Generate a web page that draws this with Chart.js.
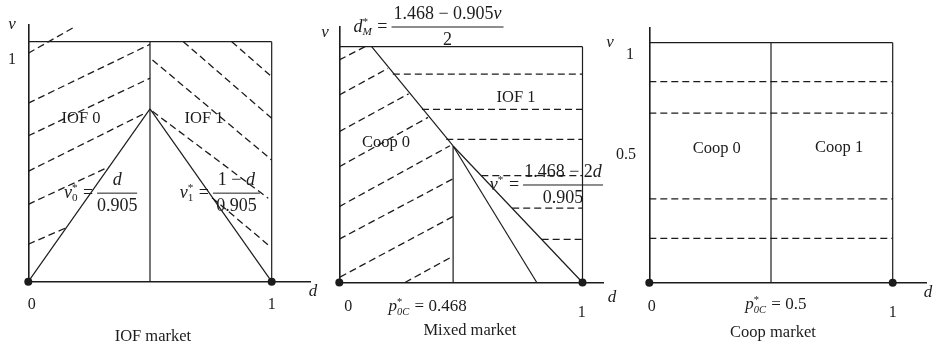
<!DOCTYPE html>
<html>
<head>
<meta charset="utf-8">
<script src="https://cdn.jsdelivr.net/npm/chart.js@4.4.0/dist/chart.umd.min.js"></script>
<style>
  html, body { margin: 0; padding: 0; background: #fff; }
  #wrap { position: relative; width: 934px; height: 351px; }
  #wrap canvas { position: absolute; left: 0; top: 0; }
</style>
</head>
<body>
<div id="wrap">
  <canvas id="iof" width="934" height="351"></canvas>
  <canvas id="mixed" width="934" height="351"></canvas>
  <canvas id="coop" width="934" height="351"></canvas>
</div>
<script>
// ---------- IOF market ----------
const iofSplit = 0.5;          // consumer indifferent between IOF 0 and IOF 1
const iofPeak = 0.72;          // v where v0* and v1* meet
// dashed iso-lines [d1, v1, d2, v2]
const iofHatch0 = [
  [0, 0.952, 0.184, 1.058],
  [0, 0.744, 0.5, 0.989],
  [0, 0.608, 0.5, 0.848],
  [0, 0.46, 0.475, 0.70],
  [0, 0.3225, 0.33, 0.478],
  [0, 0.156, 0.156, 0.225]
];
const iofHatch1 = [
  [0.637, 1, 1, 0.681],
  [0.836, 1, 1, 0.854],
  [0.51, 0.924, 1, 0.507],
  [0.51, 0.71, 0.986, 0.3475],
  [0.755, 0.35, 0.986, 0.153]
];

// ---------- Mixed market ----------
const p0cMixed = 0.468;        // p*_0C
const mixedKinkV = 0.579;      // v where d*_M meets the p*_0C line
const dMTop = 0.133;           // d*_M at v = 1
const mixedSteepEnd = 0.812;   // steeper boundary reaches v = 0 here
const mixedHatchCoop = [
  [0, 0.944, 0.106, 1.0],
  [0, 0.795, 0.20, 0.908],
  [0, 0.64, 0.285, 0.80],
  [0, 0.491, 0.365, 0.70],
  [0, 0.322, 0.455, 0.58],
  [0, 0.184, 0.468, 0.44],
  [0.003, 0.023, 0.468, 0.28],
  [0.27, 0, 0.468, 0.112]
];
const mixedIofLevels = [0.884, 0.734, 0.607, 0.453, 0.315, 0.183];
const mixedIofStarts = [0.22, 0.34, 0.44, 0.584, 0.711, 0.832];

// ---------- Coop market ----------
const p0cCoop = 0.5;
const coopLevels = [0.8375, 0.706, 0.349, 0.185];

// ---------- drawing helpers ----------
const INK = '#1c1c1c';
const SERIF = '"Liberation Serif", "Times New Roman", serif';
const fontOf = (size, italic) => (italic ? 'italic ' : '') + size + 'px ' + SERIF;

function seg(a, b, dashed) {
  return {
    data: [{ x: a[0], y: a[1] }, { x: b[0], y: b[1] }],
    showLine: true,
    borderColor: INK,
    borderWidth: dashed ? 1.3 : 1.2,
    borderDash: dashed ? [7, 4] : [],
    pointRadius: 0,
    fill: false,
    clip: false
  };
}
const hatch = list => list.map(s => seg([s[0], s[1]], [s[2], s[3]], true));
function frame(split, splitTop) {
  return [seg([0, 1], [1, 1]), seg([1, 0], [1, 1]), seg([split, 0], [split, splitTop])];
}
const endDots = () => ({
  data: [{ x: 0, y: 0 }, { x: 1, y: 0 }],
  showLine: false,
  pointRadius: 4,
  pointBackgroundColor: INK,
  pointBorderWidth: 0,
  clip: false
});

function partsWidth(ctx, parts, size) {
  let w = 0;
  for (const p of parts) {
    if (p.sub !== undefined || p.sup !== undefined) {
      const s = size * 0.62;
      ctx.font = fontOf(s, p.si);
      const a = p.sub ? ctx.measureText(p.sub).width : 0;
      ctx.font = fontOf(s, false);
      const b = p.sup ? ctx.measureText(p.sup).width : 0;
      w += Math.max(a, b) + 1;
    } else {
      ctx.font = fontOf(size, p.i);
      w += ctx.measureText(p.t).width;
    }
  }
  return w;
}
function drawParts(ctx, parts, x, y, align, size) {
  const w = partsWidth(ctx, parts, size);
  let cx = align === 'center' ? x - w / 2 : align === 'right' ? x - w : x;
  ctx.textAlign = 'left';
  for (const p of parts) {
    if (p.sub !== undefined || p.sup !== undefined) {
      const s = size * 0.62;
      let adv = 0;
      if (p.sub) {
        ctx.font = fontOf(s, p.si);
        ctx.fillText(p.sub, cx, y + size * 0.28);
        adv = ctx.measureText(p.sub).width;
      }
      if (p.sup) {
        ctx.font = fontOf(s, false);
        ctx.fillText(p.sup, cx, y - size * 0.3);
        adv = Math.max(adv, ctx.measureText(p.sup).width);
      }
      cx += adv + 1;
    } else {
      ctx.font = fontOf(size, p.i);
      ctx.fillText(p.t, cx, y);
      cx += ctx.measureText(p.t).width;
    }
  }
}
function drawFraction(ctx, n, x, y) {
  const size = n.size || 18;
  const half = n.w / 2;
  ctx.lineWidth = 1;
  ctx.beginPath();
  ctx.moveTo(x - half, y);
  ctx.lineTo(x + half, y);
  ctx.stroke();
  drawParts(ctx, n.num, x, y - 13, 'center', size);
  drawParts(ctx, n.den, x, y + 13, 'center', size);
  drawParts(ctx, n.lhs, x - half - 4, y, 'right', size);
}
function notes(items) {
  return {
    id: 'notes',
    afterDraw(chart) {
      const ctx = chart.ctx;
      const xs = chart.scales.x, ys = chart.scales.y;
      ctx.save();
      ctx.fillStyle = INK;
      ctx.strokeStyle = INK;
      ctx.textBaseline = 'middle';
      for (const n of items) {
        const px = xs.getPixelForValue(n.x);
        const py = ys.getPixelForValue(n.y);
        if (n.num) drawFraction(ctx, n, px, py);
        else drawParts(ctx, n.parts || [{ t: n.t, i: n.i }], px, py, n.align || 'center', n.size || 16.5);
      }
      ctx.restore();
    }
  };
}

function panel(id, datasets, items, pad, dMax, vMax) {
  const axis = max => ({
    type: 'linear',
    min: 0,
    max: max,
    grid: { display: false, drawTicks: false },
    ticks: { display: false },
    border: { display: true, color: INK, width: 1.6 }
  });
  return new Chart(document.getElementById(id), {
    type: 'scatter',
    data: { datasets: datasets },
    options: {
      responsive: false,
      animation: false,
      devicePixelRatio: 1,
      events: [],
      layout: { padding: pad, autoPadding: false },
      plugins: { legend: { display: false }, tooltip: { enabled: false } },
      scales: { x: axis(dMax), y: axis(vMax) }
    },
    plugins: [notes(items)]
  });
}

const V = { t: 'v', i: true };
const D = { t: 'd', i: true };

// IOF market
panel('iof',
  [
    ...frame(iofSplit, 1),
    seg([0, 0], [iofSplit, iofPeak]),
    seg([iofSplit, iofPeak], [1, 0]),
    ...hatch(iofHatch0),
    ...hatch(iofHatch1),
    endDots()
  ],
  [
    { t: 'v', i: true, x: -0.067, y: 1.07, size: 17 },
    { t: '1', x: -0.067, y: 0.924, size: 16 },
    { t: '0', x: 0.014, y: -0.097, size: 16 },
    { t: '1', x: 1.0, y: -0.097, size: 16 },
    { t: 'd', i: true, x: 1.17, y: -0.043, size: 17 },
    { t: 'IOF market', x: 0.512, y: -0.231 },
    { t: 'IOF 0', x: 0.2165, y: 0.681 },
    { t: 'IOF 1', x: 0.722, y: 0.681 },
    { x: 0.365, y: 0.369, w: 40,
      lhs: [V, { sub: '0', sup: '*' }, { t: ' =' }], num: [D], den: [{ t: '0.905' }] },
    { x: 0.855, y: 0.369, w: 47,
      lhs: [V, { sub: '1', sup: '*' }, { t: ' =' }], num: [{ t: '1 \u2212 ' }, D], den: [{ t: '0.905' }] }
  ],
  { left: 28.3, top: 25, right: 624, bottom: 69.3 }, 1.1574, 1.0696);

// Mixed market
panel('mixed',
  [
    ...frame(p0cMixed, mixedKinkV),
    seg([dMTop, 1], [p0cMixed, mixedKinkV]),
    seg([p0cMixed, mixedKinkV], [mixedSteepEnd, 0]),
    seg([p0cMixed, mixedKinkV], [1, 0]),
    ...hatch(mixedHatchCoop),
    ...mixedIofLevels.map((v, i) => seg([mixedIofStarts[i], v], [1, v], true)),
    endDots()
  ],
  [
    { t: 'v', i: true, x: -0.059, y: 1.058, size: 17 },
    { x: 0.445, y: 1.0835, w: 112,
      lhs: [D, { sub: 'M', si: true, sup: '*' }, { t: ' =' }],
      num: [{ t: '1.468 \u2212 0.905' }, V], den: [{ t: '2' }] },
    { t: 'Coop 0', x: 0.192, y: 0.592 },
    { t: 'IOF 1', x: 0.727, y: 0.782 },
    { x: 0.92, y: 0.4135, w: 80,
      lhs: [V, { sup: '*' }, { t: ' =' }], num: [{ t: '1.468 \u2212 2' }, D], den: [{ t: '0.905' }] },
    { t: '0', x: 0.037, y: -0.104, size: 16 },
    { parts: [{ t: 'p', i: true }, { sub: '0C', si: true, sup: '*' }, { t: ' = 0.468' }], x: 0.363, y: -0.104, size: 17 },
    { t: '1', x: 0.997, y: -0.13, size: 16 },
    { t: 'd', i: true, x: 1.121, y: -0.062, size: 17 },
    { t: 'Mixed market', x: 0.537, y: -0.206 }
  ],
  { left: 339.3, top: 27, right: 331, bottom: 68.5 }, 1.0843, 1.0835);

// Coop market
panel('coop',
  [
    ...frame(p0cCoop, 1),
    ...coopLevels.map(v => seg([0, v], [1, v], true)),
    endDots()
  ],
  [
    { t: 'v', i: true, x: -0.161, y: 0.9986, size: 17 },
    { t: '1', x: -0.079, y: 0.949, size: 16 },
    { t: '0.5', x: -0.096, y: 0.532, size: 16 },
    { t: 'Coop 0', x: 0.277, y: 0.56 },
    { t: 'Coop 1', x: 0.78, y: 0.561 },
    { t: '0', x: 0.01, y: -0.1, size: 16 },
    { parts: [{ t: 'p', i: true }, { sub: '0C', si: true, sup: '*' }, { t: ' = 0.5' }], x: 0.52, y: -0.093, size: 17 },
    { t: '1', x: 1.0, y: -0.127, size: 16 },
    { t: 'Coop market', x: 0.508, y: -0.21 },
    { t: 'd', i: true, x: 1.145, y: -0.043, size: 17 }
  ],
  { left: 649.3, top: 28, right: 7.3, bottom: 68.3 }, 1.1397, 1.061);
</script>
</body>
</html>
